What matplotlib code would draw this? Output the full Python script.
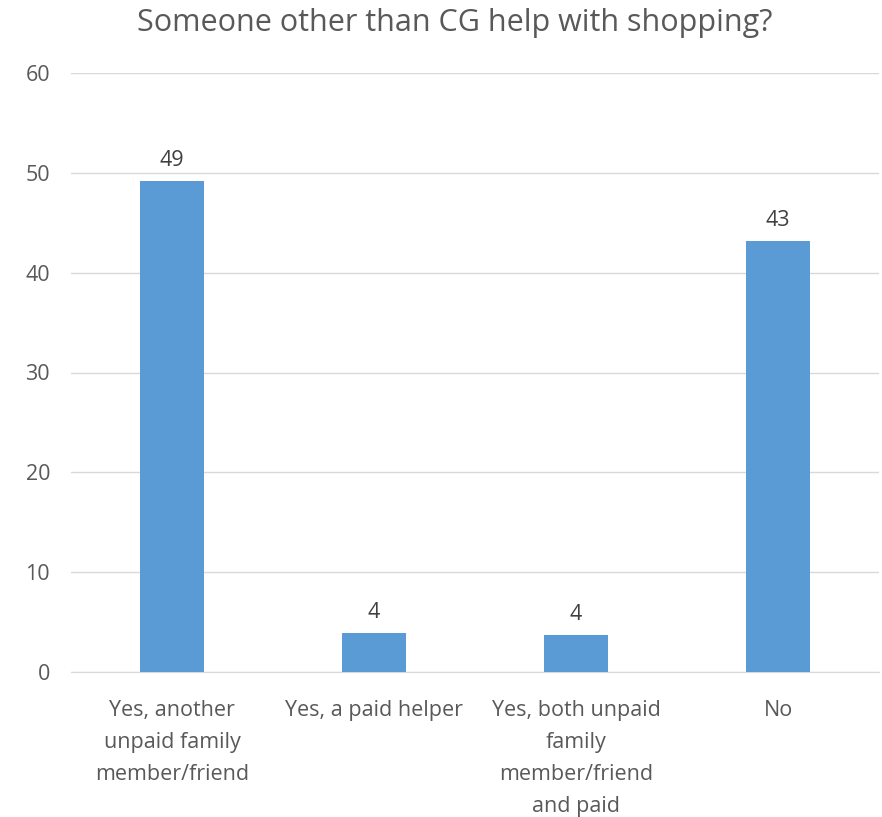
import matplotlib.pyplot as plt

categories = ['Yes, another\nunpaid family\nmember/friend', 'Yes, a paid helper',
              'Yes, both unpaid\nfamily\nmember/friend\nand paid', 'No']
values = [49.2, 3.9, 3.7, 43.2]
value_labels = ['49', '4', '4', '43']

plt.rcParams['font.family'] = ['Open Sans', 'DejaVu Sans']

fig = plt.figure(figsize=(8.82, 8.17), dpi=100)
ax = fig.add_axes([71 / 882, 1 - 672 / 817, 808 / 882, 599 / 817])

x = range(len(categories))
ax.bar(x, values, width=0.32, color='#5B9BD5', zorder=3)
for i, (v, lab) in enumerate(zip(values, value_labels)):
    ax.text(i, v + 1.0, lab, ha='center', va='bottom', fontsize=15.5, color='#404040')

ax.set_xlim(-0.5, len(categories) - 0.5)
ax.set_ylim(0, 60)
ax.set_yticks(range(0, 61, 10))
ax.set_xticks(list(x))
ax.set_xticklabels(categories, fontsize=15.5, color='#595959', linespacing=1.7)
ax.tick_params(axis='y', labelsize=15.5, labelcolor='#595959', length=0, pad=15)
ax.tick_params(axis='x', length=0, pad=20)
ax.grid(axis='y', color='#d9d9d9', linewidth=1, zorder=0)
for s in ['top', 'right', 'left']:
    ax.spines[s].set_visible(False)
ax.spines['bottom'].set_color('#d9d9d9')

fig.suptitle('Someone other than CG help with shopping?', x=455 / 882, y=1 - 23 / 817,
             va='center', fontsize=22, color='#595959')

fig.savefig('out.png', dpi=100)
